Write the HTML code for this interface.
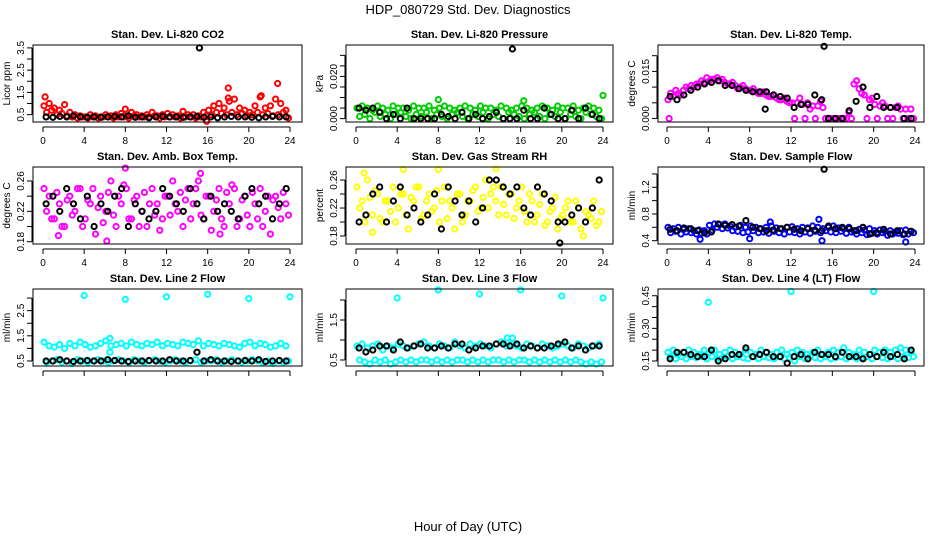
<!DOCTYPE html>
<html><head><meta charset="utf-8"><style>
body{margin:0;background:#fff}
svg{display:block;font-family:"Liberation Sans",Arial,sans-serif}
</style></head><body>
<svg id="c" width="936" height="540" viewBox="0 0 936 540">
<text x="468" y="14" text-anchor="middle" font-size="13">HDP_080729  Std. Dev. Diagnostics</text>
<text x="468" y="531" text-anchor="middle" font-size="13">Hour of Day (UTC)</text>
</svg>
<script>
const xTicks=[0,4,8,12,16,20,24];
const co2A=[0.9,1.0,0.8,0.7,0.95,0.6,0.5,0.45,0.4,0.5,0.45,0.4,0.5,0.45,0.5,0.55,0.45,0.6,0.5,0.45,0.5,0.6,0.45,0.5,0.55,0.5,0.45,0.65,0.5,0.5,0.45,0.6,0.7,0.9,1.0,0.8,1.1,1.2,0.8,0.7,0.6,0.9,1.3,0.8,0.9,1.2,1.0,0.7];
const co2B=[0.6,0.7,0.5,0.55,0.45,0.4,0.35,0.4,0.35,0.4,0.35,0.4,0.4,0.35,0.4,0.4,0.35,0.45,0.4,0.4,0.4,0.45,0.35,0.4,0.4,0.4,0.35,0.4,0.4,0.35,0.4,0.45,0.5,0.6,0.55,0.5,0.6,0.5,0.55,0.45,0.5,0.6,0.5,0.55,0.45,0.5,0.6,0.35];
const co2K=[0.4,0.38,0.42,0.4,0.45,0.4,0.38,0.4,0.38,0.4,0.42,0.4,0.45,0.38,0.4,0.36,0.4,0.42,0.4,0.4,0.38,0.4,0.42,0.38,0.4,0.36,0.4,0.42,0.4,0.4,0.38,0.36,0.4,0.42,0.4,0.4];
const co2OutX=[15.2,18,18,21.2,22.8,0.2,8,15.9];
const co2OutY=[3.5,1.7,1.25,1.35,1.9,1.3,0.75,0.2];
const co2OutC=["k","c","c","c","c","c","c","c"];
const prA=[0.005,0.006,0.005,0.004,0.006,0.005,0.004,0.006,0.005,0.005,0.004,0.006,0.005,0.005,0.006,0.004,0.005,0.006,0.005,0.004,0.005,0.006,0.005,0.004,0.006,0.005,0.005,0.004,0.006,0.005,0.004,0.005,0.006,0.005,0.004,0.005,0.006,0.005,0.004,0.006,0.005,0.005,0.006,0.004,0.005,0.006,0.005,0.004];
const prB=[0.001,0.002,0.000,0.003,0.001,0.002,0.000,0.002,0.003,0.001,0.000,0.002,0.001,0.003,0.000,0.002,0.001,0.000,0.002,0.003,0.001,0.000,0.002,0.001,0.003,0.000,0.002,0.001,0.000,0.003,0.002,0.001,0.000,0.002,0.003,0.001,0.000,0.002,0.001,0.003,0.000,0.002,0.001,0.000,0.003,0.002,0.001,0.000];
const prK=[0.005,0.004,0.005,0.003,0.000,0.002,0.000,0.005,0.000,0.000,0.000,0.000,0.002,0.001,0.000,0.003,0.000,0.002,0.000,0.001,0.003,0.000,0.000,0.000,0.004,0.000,0.000,0.005,0.002,0.000,0.000,0.004,0.000,0.005,0.002,0.000];
const prOutX=[15.2,8,16.3,24];
const prOutY=[0.033,0.009,0.0085,0.011];
const prOutC=["k","c","c","c"];
const ltA=[0.006,0.007,0.008,0.009,0.0095,0.010,0.011,0.0115,0.012,0.0125,0.012,0.0115,0.011,0.0105,0.010,0.0095,0.009,0.0085,0.008,0.0075,0.007,0.0065,0.006,0.0055,0.005,0.005,0.0045,0.005,0.004,0.004,0.0035,0.000,0.000,0.000,0.000,0.002,0.011,0.0095,0.0075,0.006,0.0045,0.004,0.004,0.0035,0.0035,0.003,0.003,0.003];
const ltB=[0.008,0.009,0.0075,0.010,0.0105,0.011,0.012,0.013,0.0125,0.013,0.0125,0.011,0.0115,0.0095,0.0105,0.009,0.0095,0.008,0.0085,0.007,0.0075,0.006,0.0065,0.005,0.000,0.0065,0.000,0.003,0.000,0.0055,0.000,0.000,0.000,0.000,0.000,0.000,0.012,0.008,0.000,0.0065,0.000,0.005,0.000,0.000,0.004,0.000,0.000,0.000];
const ltK=[0.007,0.006,0.0075,0.009,0.010,0.011,0.0115,0.012,0.0105,0.0105,0.0095,0.009,0.0085,0.0085,0.0085,0.0075,0.007,0.0065,0.0035,0.0045,0.0045,0.0075,0.006,0.000,0.000,0.000,0.0025,0.0055,0.010,0.0035,0.007,0.0035,0.0035,0.0035,0.000,0.000];
const ltOutX=[15.2,0.2,9.5];
const ltOutY=[0.023,0.0,0.003];
const ltOutC=["k","c","k"];
const btA=[0.25,0.24,0.21,0.23,0.2,0.24,0.22,0.25,0.21,0.23,0.19,0.24,0.22,0.26,0.2,0.23,0.25,0.21,0.24,0.22,0.2,0.25,0.23,0.21,0.24,0.26,0.22,0.2,0.25,0.23,0.26,0.21,0.24,0.22,0.25,0.2,0.23,0.25,0.21,0.24,0.2,0.23,0.25,0.22,0.19,0.24,0.21,0.23];
const btB=[0.22,0.21,0.245,0.2,0.235,0.215,0.25,0.2,0.235,0.25,0.225,0.205,0.245,0.215,0.24,0.255,0.21,0.235,0.2,0.245,0.23,0.215,0.195,0.24,0.215,0.23,0.245,0.235,0.21,0.25,0.215,0.24,0.195,0.235,0.21,0.245,0.255,0.2,0.235,0.215,0.245,0.21,0.2,0.24,0.235,0.225,0.245,0.215];
const btK=[0.23,0.24,0.22,0.25,0.23,0.21,0.24,0.2,0.23,0.22,0.24,0.25,0.2,0.23,0.22,0.21,0.22,0.25,0.24,0.23,0.22,0.25,0.23,0.21,0.24,0.22,0.23,0.22,0.21,0.24,0.25,0.23,0.24,0.21,0.23,0.25];
const btOutX=[1.5,6.2,8,15.3,17.2];
const btOutY=[0.188,0.181,0.277,0.27,0.19];
const btOutC=["c","c","c","c","c"];
const rhA=[0.25,0.23,0.26,0.21,0.24,0.2,0.23,0.25,0.22,0.24,0.19,0.23,0.25,0.21,0.24,0.22,0.2,0.25,0.23,0.19,0.24,0.21,0.23,0.25,0.22,0.26,0.24,0.23,0.25,0.21,0.24,0.22,0.25,0.2,0.23,0.21,0.24,0.2,0.22,0.19,0.21,0.23,0.2,0.22,0.18,0.21,0.23,0.2];
const rhB=[0.22,0.2,0.235,0.245,0.205,0.23,0.215,0.2,0.24,0.21,0.235,0.25,0.205,0.23,0.215,0.245,0.23,0.205,0.22,0.24,0.2,0.23,0.245,0.215,0.235,0.22,0.25,0.21,0.225,0.24,0.205,0.23,0.215,0.24,0.2,0.225,0.195,0.215,0.235,0.205,0.22,0.2,0.23,0.19,0.215,0.205,0.195,0.215];
const rhK=[0.2,0.21,0.24,0.25,0.2,0.23,0.25,0.21,0.22,0.2,0.21,0.24,0.19,0.25,0.23,0.21,0.23,0.2,0.22,0.26,0.26,0.25,0.24,0.25,0.22,0.21,0.25,0.24,0.23,0.2,0.2,0.21,0.22,0.2,0.22,0.26];
const rhOutX=[0.8,4.6,8,13.6,1.6,19.8];
const rhOutY=[0.27,0.275,0.275,0.276,0.185,0.17];
const rhOutC=["c","c","c","c","c","k"];
const sfA=[0.6,0.58,0.6,0.57,0.58,0.55,0.56,0.55,0.63,0.65,0.64,0.65,0.62,0.6,0.63,0.6,0.62,0.6,0.58,0.6,0.62,0.59,0.58,0.6,0.61,0.58,0.6,0.59,0.62,0.6,0.58,0.6,0.62,0.59,0.58,0.6,0.55,0.57,0.56,0.58,0.55,0.56,0.54,0.55,0.53,0.55,0.56,0.54];
const sfB=[0.52,0.54,0.5,0.53,0.52,0.5,0.51,0.5,0.56,0.6,0.58,0.59,0.55,0.54,0.52,0.53,0.55,0.52,0.53,0.51,0.54,0.52,0.5,0.53,0.52,0.5,0.53,0.51,0.54,0.52,0.55,0.53,0.52,0.54,0.51,0.53,0.5,0.52,0.49,0.51,0.5,0.52,0.48,0.5,0.51,0.49,0.5,0.52];
const sfK=[0.57,0.55,0.59,0.58,0.55,0.52,0.53,0.65,0.63,0.64,0.62,0.7,0.6,0.58,0.55,0.56,0.58,0.6,0.57,0.55,0.58,0.56,0.55,0.62,0.58,0.6,0.58,0.55,0.6,0.5,0.52,0.57,0.5,0.55,0.5,0.54];
const sfOutX=[15.2,3.2,8,15,23.1,14.7,10];
const sfOutY=[1.47,0.42,0.43,0.4,0.38,0.72,0.68];
const sfOutC=["k","c","c","c","c","c","c"];
const l2A=[1.25,1.1,1.05,1.15,1.0,1.2,1.1,1.25,1.15,1.05,1.1,1.2,1.3,1.1,1.15,1.2,1.1,1.25,1.15,1.1,1.2,1.15,1.25,1.1,1.2,1.15,1.1,1.25,1.2,1.15,1.3,1.1,1.2,1.15,1.1,1.2,1.15,1.1,1.05,1.2,1.25,1.1,1.2,1.15,1.05,1.1,1.2,1.1];
const l2B=[0.45,0.5,0.55,0.45,0.5,0.4,0.55,0.5,0.45,0.5,0.55,0.5,0.45,0.5,0.55,0.5,0.45,0.55,0.5,0.45,0.5,0.55,0.5,0.45,0.5,0.55,0.5,0.45,0.5,0.55,0.45,0.5,0.5,0.55,0.45,0.5,0.55,0.5,0.45,0.5,0.55,0.5,0.45,0.5,0.4,0.5,0.45,0.5];
const l2K=[0.5,0.5,0.55,0.5,0.48,0.5,0.52,0.5,0.5,0.55,0.52,0.5,0.48,0.5,0.5,0.52,0.5,0.5,0.55,0.5,0.5,0.52,0.85,0.5,0.55,0.5,0.5,0.48,0.5,0.52,0.5,0.55,0.48,0.5,0.52,0.5];
const l2OutX=[4,8,12,16,20,24,6.5,6.5];
const l2OutY=[3.1,2.95,3.05,3.15,2.98,3.05,0.85,1.4];
const l2OutC=["c","c","c","c","c","c","c","c"];
const l3A=[0.85,0.9,0.8,0.85,0.9,0.75,0.85,0.8,0.9,0.85,0.8,0.85,0.9,0.95,0.85,0.8,0.9,0.85,0.8,0.95,0.85,0.8,0.9,0.85,0.9,0.85,0.8,0.9,0.95,0.85,0.9,0.85,0.8,0.9,0.85,0.8,0.9,0.85,0.8,0.85,0.9,0.85,0.8,0.9,0.85,0.8,0.85,0.9];
const l3B=[0.5,0.45,0.4,0.5,0.45,0.5,0.4,0.45,0.5,0.45,0.5,0.45,0.5,0.5,0.45,0.5,0.45,0.5,0.45,0.5,0.5,0.45,0.5,0.45,0.5,0.45,0.5,0.5,0.45,0.5,0.45,0.5,0.5,0.45,0.5,0.45,0.5,0.45,0.5,0.45,0.5,0.45,0.5,0.45,0.4,0.45,0.4,0.45];
const l3K=[0.8,0.7,0.75,0.85,0.85,0.75,0.95,0.8,0.85,0.9,0.8,0.8,0.85,0.8,0.9,0.9,0.75,0.8,0.85,0.85,0.9,0.9,0.85,0.9,0.8,0.85,0.8,0.8,0.85,0.9,0.95,0.8,0.85,0.75,0.85,0.85];
const l3OutX=[4,8,12,16,20,24,14.7,15.2];
const l3OutY=[2.05,2.25,2.15,2.25,2.1,2.05,1.05,1.05];
const l3OutC=["c","c","c","c","c","c","c","c"];
const l4A=[0.19,0.2,0.18,0.19,0.2,0.19,0.18,0.2,0.19,0.2,0.18,0.19,0.2,0.19,0.18,0.2,0.19,0.18,0.2,0.19,0.18,0.19,0.2,0.18,0.19,0.2,0.19,0.18,0.19,0.2,0.18,0.19,0.2,0.19,0.21,0.19,0.18,0.2,0.19,0.18,0.2,0.19,0.2,0.19,0.2,0.21,0.2,0.19];
const l4B=[0.17,0.16,0.17,0.16,0.17,0.165,0.17,0.16,0.17,0.16,0.165,0.17,0.16,0.17,0.165,0.16,0.17,0.16,0.17,0.165,0.16,0.17,0.16,0.165,0.15,0.17,0.16,0.17,0.165,0.16,0.17,0.16,0.165,0.17,0.16,0.17,0.16,0.165,0.17,0.16,0.17,0.165,0.16,0.17,0.16,0.17,0.165,0.17];
const l4K=[0.16,0.19,0.19,0.18,0.17,0.17,0.2,0.15,0.16,0.18,0.18,0.21,0.17,0.18,0.19,0.17,0.17,0.14,0.17,0.18,0.16,0.19,0.18,0.18,0.17,0.19,0.17,0.17,0.16,0.18,0.17,0.19,0.17,0.18,0.16,0.2];
const l4OutX=[4,12,20];
const l4OutY=[0.42,0.47,0.47];
const l4OutC=["c","c","c"];

const NS="http://www.w3.org/2000/svg";
const svg=document.getElementById('c');
const cols=[{l:33,r:302,x0:43,x1:290},{l:346,r:613,x0:356,x1:603},{l:658,r:924,x0:667,x1:915}];
const rows=[{t:45,b:122},{t:167,b:244},{t:289,b:366}];
const panels=[
 {id:'co2',title:'Stan. Dev. Li-820 CO2',yl:'Licor ppm',col:'#ff0000',lim:[0.17,3.63],ticks:[0.5,1,1.5,2,2.5,3,3.5],labs:['0.5','','1.5','','2.5','','3.5'],A:co2A,B:co2B,K:co2K,ox:co2OutX,oy:co2OutY,oc:co2OutC},
 {id:'pressure',title:'Stan. Dev. Li-820 Pressure',yl:'kPa',col:'#00cd00',lim:[-0.0016,0.0349],ticks:[0,0.005,0.01,0.015,0.02,0.025,0.03],labs:['0.000','','','','0.020','',''],A:prA,B:prB,K:prK,ox:prOutX,oy:prOutY,oc:prOutC},
 {id:'li820-temp',title:'Stan. Dev. Li-820 Temp.',yl:'degrees C',col:'#ff00ff',lim:[-0.0011,0.0234],ticks:[0,0.005,0.01,0.015,0.02],labs:['0.000','','','0.015',''],A:ltA,B:ltB,K:ltK,ox:ltOutX,oy:ltOutY,oc:ltOutC},
 {id:'box-temp',title:'Stan. Dev. Amb. Box Temp.',yl:'degrees C',col:'#ff00ff',lim:[0.177,0.2784],ticks:[0.18,0.2,0.22,0.24,0.26],labs:['0.18','','0.22','','0.26'],A:btA,B:btB,K:btK,ox:btOutX,oy:btOutY,oc:btOutC},
 {id:'gas-rh',title:'Stan. Dev. Gas Stream RH',yl:'percent',col:'#ffff00',lim:[0.1686,0.2786],ticks:[0.18,0.2,0.22,0.24,0.26],labs:['0.18','','0.22','','0.26'],A:rhA,B:rhB,K:rhK,ox:rhOutX,oy:rhOutY,oc:rhOutC},
 {id:'sample-flow',title:'Stan. Dev. Sample Flow',yl:'ml/min',col:'#0000ff',lim:[0.35,1.504],ticks:[0.4,0.6,0.8,1.0,1.2,1.4],labs:['0.4','','0.8','','1.2',''],A:sfA,B:sfB,K:sfK,ox:sfOutX,oy:sfOutY,oc:sfOutC},
 {id:'line2-flow',title:'Stan. Dev. Line 2 Flow',yl:'ml/min',col:'#00ffff',lim:[0.30,3.36],ticks:[0.5,1,1.5,2,2.5,3],labs:['0.5','','1.5','','2.5',''],A:l2A,B:l2B,K:l2K,ox:l2OutX,oy:l2OutY,oc:l2OutC},
 {id:'line3-flow',title:'Stan. Dev. Line 3 Flow',yl:'ml/min',col:'#00ffff',lim:[0.35,2.275],ticks:[0.5,1,1.5,2],labs:['0.5','','1.5',''],A:l3A,B:l3B,K:l3K,ox:l3OutX,oy:l3OutY,oc:l3OutC},
 {id:'line4-flow',title:'Stan. Dev. Line 4 (LT) Flow',yl:'ml/min',col:'#00ffff',lim:[0.127,0.481],ticks:[0.15,0.2,0.25,0.3,0.35,0.4,0.45],labs:['0.15','','','0.30','','','0.45'],A:l4A,B:l4B,K:l4K,ox:l4OutX,oy:l4OutY,oc:l4OutC}
];
function mk(tag,attrs,parent){const e=document.createElementNS(NS,tag);for(const k in attrs)e.setAttribute(k,attrs[k]);(parent||svg).appendChild(e);return e;}
panels.forEach((p,i)=>{
 const C=cols[i%3],R=rows[Math.floor(i/3)];
 const xs=h=>C.x0+(C.x1-C.x0)*h/24;
 const ys=v=>R.b-(R.b-R.t)*(v-p.lim[0])/(p.lim[1]-p.lim[0]);
 const g=mk('g',{});
 
 
 const t=mk('text',{x:(C.l+C.r)/2,y:R.t-7,'text-anchor':'middle','font-size':'11','font-weight':'bold'},g);
 t.textContent=p.title;
 
 
 const yt=mk('text',{transform:`translate(${C.l-23},${(R.t+R.b)/2}) rotate(-90)`,'text-anchor':'middle','font-size':'10'},g);
 yt.textContent=p.yl;
 
 
 const xa=mk('g',{stroke:'#000','stroke-width':'1'},g);
 
 
 mk('line',{x1:xs(0),x2:xs(24),y1:R.b+5,y2:R.b+5},xa);
 xTicks.forEach(h=>{
  mk('line',{x1:xs(h),x2:xs(h),y1:R.b+5,y2:R.b+10},xa);
  if(i<6){const tl=mk('text',{x:xs(h),y:R.b+22,'text-anchor':'middle','font-size':'10',stroke:'none'},g);tl.textContent=h;
  
  }
 });
 const ya=mk('g',{stroke:'#000','stroke-width':'1'},g);
 
 
 mk('line',{x1:C.l-1,x2:C.l-1,y1:ys(p.ticks[0]),y2:ys(p.ticks[p.ticks.length-1])},ya);
 p.ticks.forEach((v,j)=>{
  mk('line',{x1:C.l-6,x2:C.l-1,y1:ys(v),y2:ys(v)},ya);
  if(p.labs[j]){const tl=mk('text',{transform:`translate(${C.l-9},${ys(v)}) rotate(-90)`,'text-anchor':'middle','font-size':'10',stroke:'none'},g);tl.textContent=p.labs[j];
  
  }
 });
 const pts=mk('g',{fill:'none','stroke-width':'2'},g);
 
 
 const dot=(h,v,c)=>{const e=mk('circle',{cx:xs(h).toFixed(1),cy:ys(v).toFixed(1),r:'2.6',stroke:c},pts);
  
  };
 p.A.forEach((v,j)=>dot(0.1+j*0.5,v,p.col));
 p.B.forEach((v,j)=>dot(0.35+j*0.5,v,p.col));
 p.ox.forEach((h,j)=>{if(p.oc[j]==='c')dot(h,p.oy[j],p.col);});
 p.K.forEach((v,j)=>dot(0.3+j*24/36,v,'#000'));
 p.ox.forEach((h,j)=>{if(p.oc[j]==='k')dot(h,p.oy[j],'#000');});
 const box=mk('rect',{x:C.l,y:R.t,width:C.r-C.l,height:R.b-R.t,fill:'none',stroke:'#000','stroke-width':'1'},g);
 
 
});
</script>
</body></html>
